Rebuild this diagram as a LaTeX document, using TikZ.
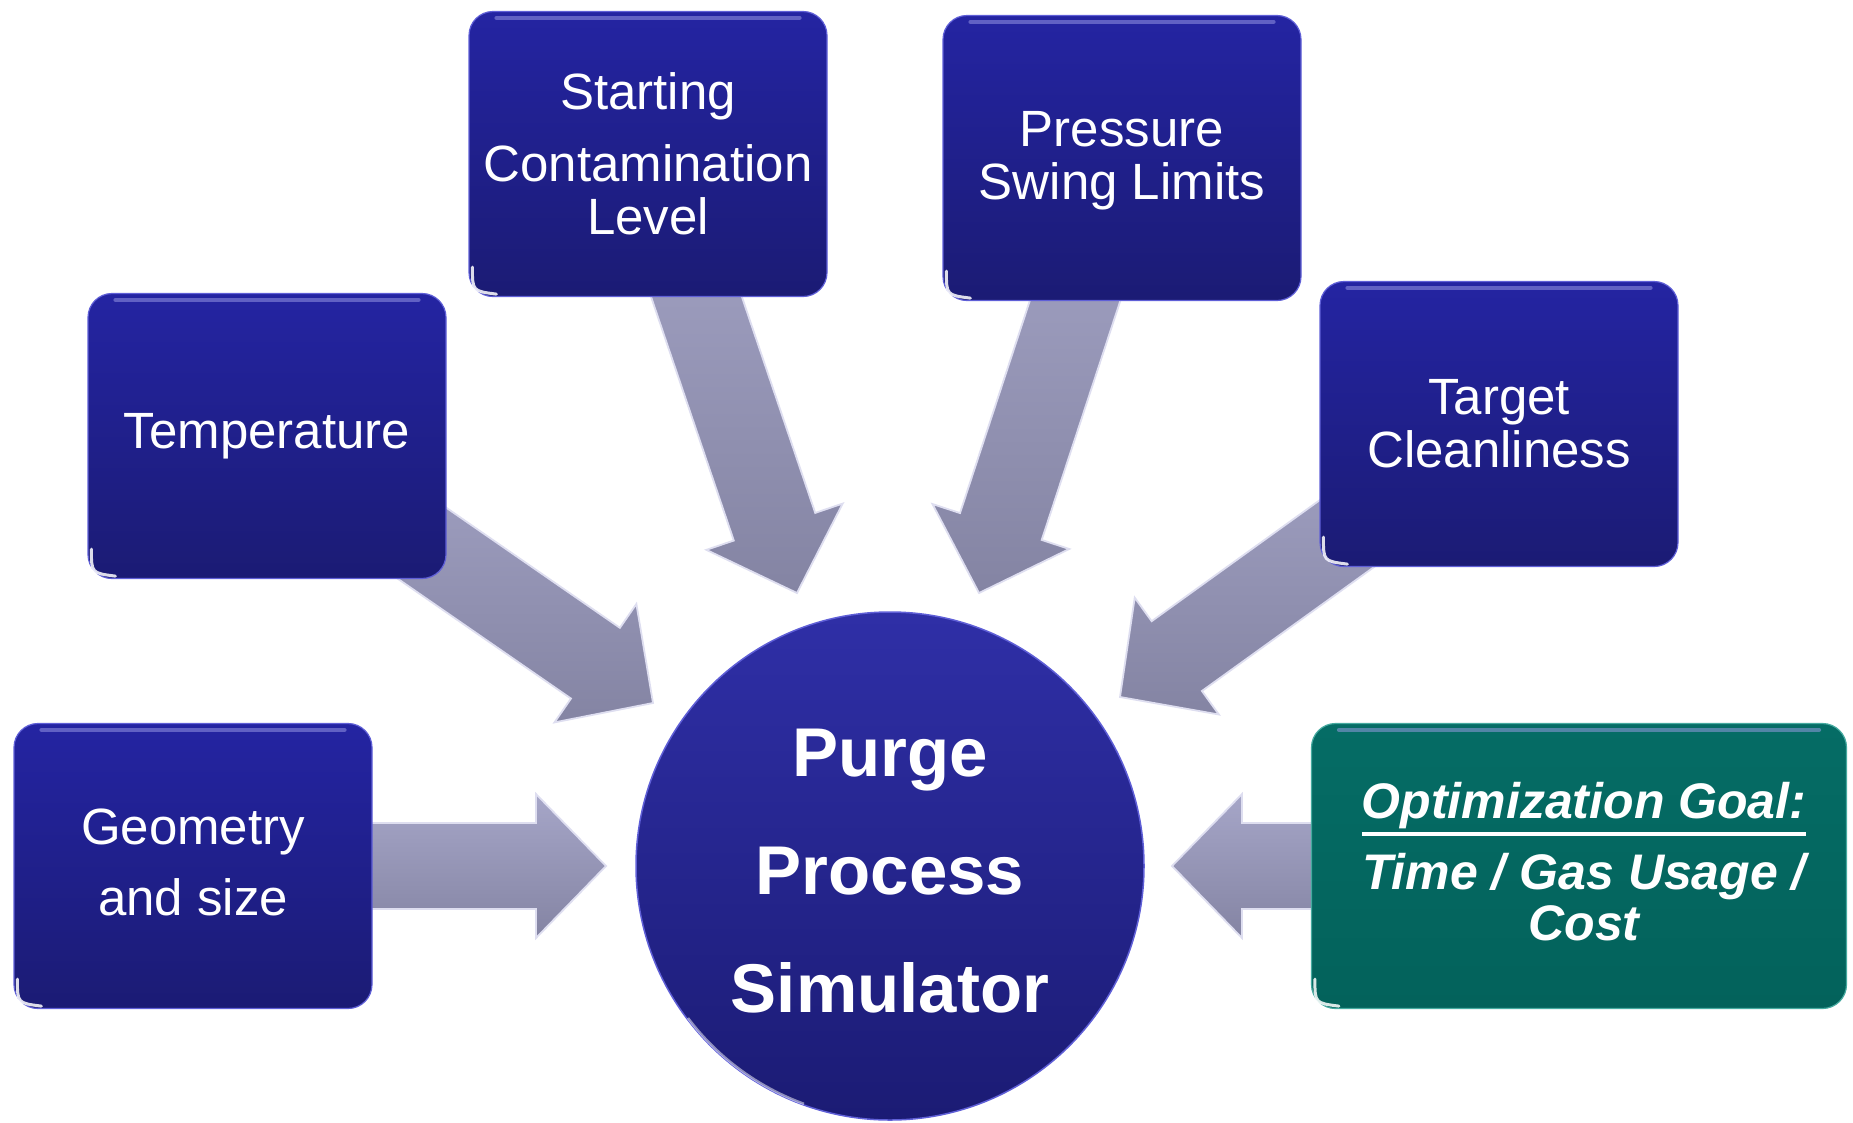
\documentclass[tikz,border=0pt]{standalone}
\usepackage{fontspec}
\setmainfont{Liberation Sans}
\usetikzlibrary{calc}

\definecolor{boxtop}{RGB}{36,36,162}
\definecolor{boxbot}{RGB}{27,27,116}
\definecolor{rim}{RGB}{95,95,215}
\definecolor{goaltop}{RGB}{5,108,101}
\definecolor{goalbot}{RGB}{3,98,91}
\definecolor{goalrim}{RGB}{70,170,160}
\definecolor{arrtop}{RGB}{166,166,200}
\definecolor{arrbot}{RGB}{132,132,163}
\definecolor{arredge}{RGB}{222,222,240}

\tikzset{
  boxtext/.style={text=white, align=center, inner sep=0pt, font=\fontsize{51}{53}\selectfont},
  goaltext/.style={text=white, align=center, inner sep=0pt, font=\bfseries\itshape\fontsize{50}{51}\selectfont},
  inputbox/.style={boxtext, rounded corners=24pt, minimum width=358pt, minimum height=285pt,
    top color=boxtop, bottom color=boxbot, draw=rim, line width=1.2pt},
  goalbox/.style={rounded corners=24pt, minimum width=535pt, minimum height=285pt,
    top color=goaltop, bottom color=goalbot, draw=goalrim, line width=1.2pt},
  simcircle/.style={circle, minimum size=508pt, inner sep=0pt,
    top color=boxtop!95!white, bottom color=boxbot, draw=rim, line width=1.5pt},
  simtext/.style={text=white, align=center, font=\bfseries\fontsize{69}{118}\selectfont},
  fatarrow/.style={top color=arrtop, bottom color=arrbot, draw=arredge, line width=1.8pt, line join=miter},
  glint/.style={white, line width=3pt, line cap=round, opacity=0.85},
  sheen/.style={rim!60!white, line width=4pt, opacity=0.5, line cap=round},
}

% broad block arrow from #1 (start) to #2 (tip)
\newcommand\broadarrow[2]{%
  \coordinate (headbase) at ($(#2)!70pt!(#1)$);
  \draw[fatarrow] ($(#1)!43pt!90:(#2)$) -- ($(headbase)!43pt!90:(#2)$)
    -- ($(headbase)!72pt!90:(#2)$) -- (#2) -- ($(headbase)!72pt!-90:(#2)$)
    -- ($(headbase)!43pt!-90:(#2)$) -- ($(#1)!43pt!-90:(#2)$) -- cycle;
}
\newcommand\ulinetext[1]{\leavevmode\vtop{\hbox{#1}\kern3pt\hrule height 3.5pt}}

\begin{document}
\begin{tikzpicture}[x=1pt,y=-1pt]
\useasboundingbox (0,0) rectangle (1853,1122);

% anchor points for the boxes and arrow tips
\coordinate (cgeo) at (193,866);
\coordinate (ctemp) at (267,436);
\coordinate (cstart) at (648,154);
\coordinate (cpress) at (1122,158);
\coordinate (ctarget) at (1499,424);
\coordinate (cgoal) at (1579,866);
\coordinate (tipgeo) at (606,866);
\coordinate (tiptemp) at (653,703);
\coordinate (tipstart) at (797,593);
\coordinate (tippress) at (979,593);
\coordinate (tiptarget) at (1120,697);
\coordinate (tipgoal) at (1172,866);

% arrows into the simulator
\broadarrow{cgeo}{tipgeo}
\broadarrow{ctemp}{tiptemp}
\broadarrow{cstart}{tipstart}
\broadarrow{cpress}{tippress}
\broadarrow{ctarget}{tiptarget}
\broadarrow{cgoal}{tipgoal}

% input boxes
\node[inputbox] (geo) at (cgeo) {};
\node[inputbox] (temp) at (ctemp) {Temperature};
\node[inputbox] (start) at (cstart) {Starting\\[19pt]Contamination\\Level};
\node[inputbox] (press) at (cpress) {};
\node[inputbox] (target) at (ctarget) {Target\\Cleanliness};
\node[goalbox] (goal) at (cgoal) {};
\node[boxtext] (geotext) at ($(cgeo)+(0,-4)$) {Geometry\\[18pt]and size};
\node[boxtext] (presstext) at ($(cpress)+(0,3)$) {Pressure\\Swing Limits};
\node[goaltext] (goallabel) at ($(cgoal)+(5,-4)$) {\ulinetext{Optimization Goal:}\\[17pt]Time / Gas Usage /\\Cost};

% glossy details on the boxes
\foreach \b in {geo,temp,start,press,target,goal}{
  \draw[sheen] ($(\b.north west)+(28,7)$) -- ($(\b.north east)+(-28,7)$);
  \draw[glint] ($(\b.south west)+(4,-30)$) .. controls ($(\b.south west)+(4,-6)$) .. ($(\b.south west)+(28,-3)$);
}

% central simulator
\node[simcircle] (sim) at (890,866) {};
\node[simtext] (simlabel) at ($(sim.center)+(0,5)$) {Purge\\Process\\Simulator};
\draw[white, line width=2.5pt, opacity=0.5] ($(sim.center)+(-202,152)$) arc[start angle=217, end angle=250, radius=254pt];
\end{tikzpicture}
\end{document}
